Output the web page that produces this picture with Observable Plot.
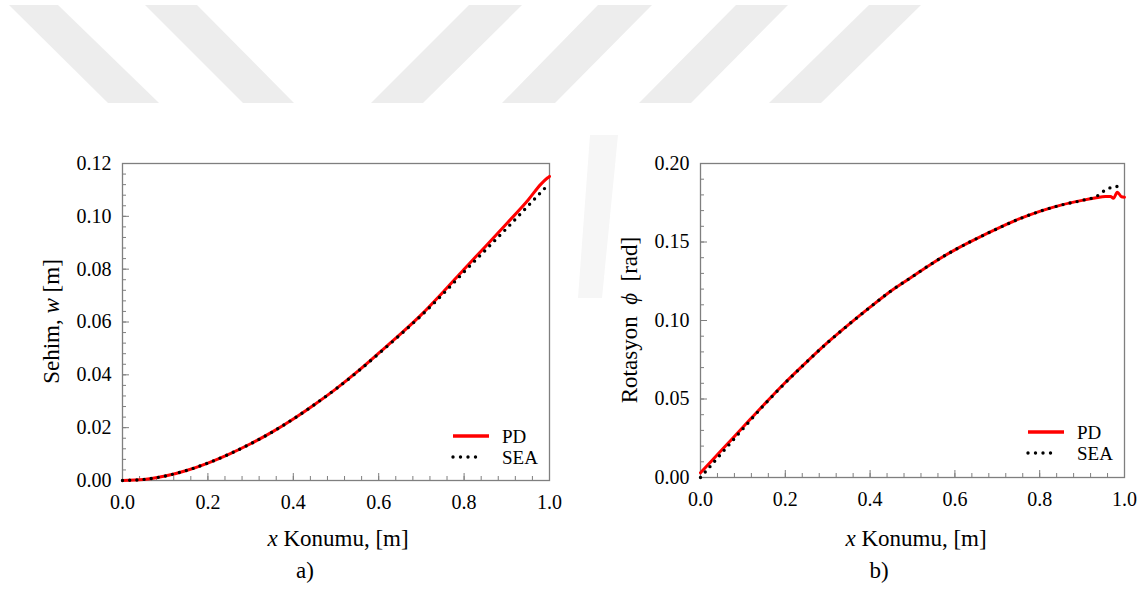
<!DOCTYPE html>
<html>
<head>
<meta charset="utf-8">
<script src="https://cdn.jsdelivr.net/npm/d3@7"></script>
<script src="https://cdn.jsdelivr.net/npm/@observablehq/plot@0.6"></script>
<style>
  html, body { margin: 0; padding: 0; background: #fff; }
  body { position: relative; width: 1146px; height: 589px; overflow: hidden; font-family: "Liberation Serif", "Times New Roman", serif; }
  #bg { position: absolute; left: 0; top: 0; }
  .panel { position: absolute; top: 0; }
</style>
</head>
<body>
<svg id="bg" width="1146" height="589"></svg>
<div id="panelA" class="panel" style="left:0px"></div>
<div id="panelB" class="panel" style="left:573px"></div>
<script>
// Axis tick labels
const xTicks = [0, 0.2, 0.4, 0.6, 0.8, 1.0];
const deflectionTicks = [0, 0.02, 0.04, 0.06, 0.08, 0.10, 0.12];
const rotationTicks = [0, 0.05, 0.10, 0.15, 0.20];

// Series names
const seriesNames = ["PD", "SEA"];

// a) Deflection w along the beam [m]
const xPD_a = [0, 0.05, 0.1, 0.15, 0.2, 0.25, 0.3, 0.35, 0.4, 0.45, 0.5, 0.55, 0.6, 0.65, 0.7, 0.75, 0.8, 0.85, 0.9, 0.95, 0.98, 0.995, 1.0];
const wPD   = [0, 0.0004, 0.0017, 0.0038, 0.0066, 0.0100, 0.0139, 0.0183, 0.0233, 0.0288, 0.0347, 0.0412, 0.0482, 0.0553, 0.0628, 0.0712, 0.0800, 0.0886, 0.0973, 0.1062, 0.1122, 0.1145, 0.1151];
const xSEA_a = [0, 0.05, 0.1, 0.15, 0.2, 0.25, 0.3, 0.35, 0.4, 0.45, 0.5, 0.55, 0.6, 0.65, 0.7, 0.75, 0.8, 0.85, 0.9, 0.95, 0.99];
const wSEA   = [0, 0.0004, 0.0017, 0.0038, 0.0066, 0.0100, 0.0139, 0.0183, 0.0233, 0.0288, 0.0347, 0.0411, 0.0480, 0.0551, 0.0625, 0.0705, 0.0790, 0.0872, 0.0955, 0.1040, 0.1108];

// b) Rotation phi along the beam [rad]
const xPD_b = [0, 0.05, 0.1, 0.15, 0.2, 0.25, 0.3, 0.35, 0.4, 0.45, 0.5, 0.55, 0.6, 0.65, 0.7, 0.75, 0.8, 0.85, 0.9, 0.93, 0.955, 0.967, 0.974, 0.983, 0.993, 1.0];
const phiPD = [0.003, 0.0175, 0.032, 0.0465, 0.0605, 0.0735, 0.086, 0.0975, 0.1085, 0.119, 0.128, 0.137, 0.145, 0.152, 0.1585, 0.1645, 0.1695, 0.1735, 0.1765, 0.178, 0.179, 0.179, 0.1778, 0.1817, 0.1788, 0.1785];
const xSEA_b = [0, 0.05, 0.1, 0.15, 0.2, 0.25, 0.3, 0.35, 0.4, 0.45, 0.5, 0.55, 0.6, 0.65, 0.7, 0.75, 0.8, 0.85, 0.9, 0.936, 0.951, 0.967, 0.983];
const phiSEA = [0, 0.0155, 0.031, 0.0462, 0.0603, 0.0735, 0.086, 0.0975, 0.1085, 0.119, 0.128, 0.137, 0.145, 0.152, 0.1585, 0.1645, 0.1695, 0.1735, 0.1765, 0.1794, 0.1824, 0.1846, 0.1854];

const FONT = '"Liberation Serif", "Times New Roman", serif';
const FRAME = "#7f7f7f";

// Light diagonal band across the top of the page
const band = d3.select("#bg");
const stripes = [
  [[9,5],[58,5],[159,103],[108,103]],
  [[145,5],[197,5],[294,103],[243,103]],
  [[469,5],[522,5],[423,103],[371,103]],
  [[598,5],[652,5],[555,103],[502,103]],
  [[736,5],[788,5],[691,103],[639,103]],
  [[869,5],[921,5],[821,103],[769,103]],
  [[590,135],[618,135],[602,298],[578,298]]
];
band.selectAll("polygon").data(stripes).join("polygon")
  .attr("points", d => d.map(p => p.join(",")).join(" "))
  .attr("fill", (d, i) => i === 6 ? "#f6f6f6" : "#ededed");

function panel({el, margin, yDomain, yTicks, yFormat, yMinorStep, pdX, pdY, seaX, seaY, yTitle, yTitleX, xTitleX, caption, captionX, legend}) {
  const width = 573, height = 589;
  const pw = width - margin.left - margin.right;
  const ph = height - margin.top - margin.bottom;
  const pd = pdX.map((x, i) => ({x, y: pdY[i]}));
  const sea = seaX.map((x, i) => ({x, y: seaY[i]}));
  const xMinor = d3.range(0, 1.0001, 0.04);
  const yMinor = d3.range(yDomain[0], yDomain[1] + 1e-9, yMinorStep);

  const chart = Plot.plot({
    width, height,
    marginLeft: margin.left, marginRight: margin.right,
    marginTop: margin.top, marginBottom: margin.bottom,
    style: {fontFamily: FONT, fontSize: "20px", color: "#000", background: "transparent", overflow: "visible"},
    x: {domain: [0, 1]},
    y: {domain: yDomain},
    marks: [
      Plot.frame({stroke: FRAME, strokeWidth: 1.3}),
      Plot.tickX(xMinor, {x: d => d, stroke: FRAME, insetTop: ph - 4}),
      Plot.tickX(xTicks, {x: d => d, stroke: FRAME, insetTop: ph - 7}),
      Plot.tickY(yMinor, {y: d => d, stroke: FRAME, insetRight: pw - 4}),
      Plot.tickY(yTicks, {y: d => d, stroke: FRAME, insetRight: pw - 7}),
      Plot.axisX({ticks: xTicks, tickSize: 0, tickPadding: 14, tickFormat: d3.format(".1f"), label: null}),
      Plot.axisY({ticks: yTicks, tickSize: 0, tickPadding: 11, tickFormat: d3.format(yFormat), label: null}),
      Plot.line(pd, {x: "x", y: "y", stroke: "#ff0000", strokeWidth: 3, curve: "monotone-x"}),
      Plot.line(sea, {x: "x", y: "y", stroke: "#000", strokeWidth: 3.4, strokeDasharray: "0 7.2", strokeLinecap: "round", curve: "monotone-x"})
    ]
  });

  const svg = d3.select(chart);
  // x-axis title
  const xt = svg.append("text").attr("x", xTitleX).attr("y", 546)
    .attr("text-anchor", "middle").attr("font-size", 23).attr("fill", "#000");
  xt.append("tspan").attr("font-style", "italic").text("x");
  xt.append("tspan").text(" Konumu, [m]");
  // y-axis title
  const yt = svg.append("text")
    .attr("transform", `translate(${yTitleX},${margin.top + ph / 2}) rotate(-90)`)
    .attr("text-anchor", "middle").attr("font-size", 23).attr("fill", "#000")
    .style("white-space", "pre");
  yTitle.forEach(([t, italic]) => {
    const s = yt.append("tspan").text(t);
    if (italic) s.attr("font-style", "italic");
  });
  // caption
  svg.append("text").attr("x", captionX).attr("y", 578).attr("text-anchor", "middle")
    .attr("font-size", 23).attr("fill", "#000").text(caption);
  // legend
  const g = svg.append("g").attr("text-anchor", "start");
  g.append("line").attr("x1", legend.x).attr("x2", legend.x + 36)
    .attr("y1", legend.y).attr("y2", legend.y)
    .attr("stroke", "#ff0000").attr("stroke-width", 3.5);
  g.append("line").attr("x1", legend.x).attr("x2", legend.x + 30)
    .attr("y1", legend.y + 21).attr("y2", legend.y + 21)
    .attr("stroke", "#000").attr("stroke-width", 3.4)
    .attr("stroke-dasharray", "0 7.5").attr("stroke-linecap", "round");
  g.append("text").attr("x", legend.x + 49).attr("y", legend.y + 7)
    .attr("text-anchor", "start").attr("font-size", 19).attr("fill", "#000").text(seriesNames[0]);
  g.append("text").attr("x", legend.x + 49).attr("y", legend.y + 28)
    .attr("text-anchor", "start").attr("font-size", 19).attr("fill", "#000").text(seriesNames[1]);

  document.getElementById(el).appendChild(chart);
}

panel({
  el: "panelA",
  margin: {left: 122, right: 24, top: 163, bottom: 109},
  yDomain: [0, 0.12], yTicks: deflectionTicks, yFormat: ".2f", yMinorStep: 0.004,
  pdX: xPD_a, pdY: wPD, seaX: xSEA_a, seaY: wSEA,
  yTitle: [["Sehim, ", false], ["w", true], [" [m]", false]],
  yTitleX: 59, xTitleX: 338, caption: "a)", captionX: 305,
  legend: {x: 453, y: 436}
});

panel({
  el: "panelB",
  margin: {left: 127, right: 22, top: 163, bottom: 112},
  yDomain: [0, 0.20], yTicks: rotationTicks, yFormat: ".2f", yMinorStep: 0.01,
  pdX: xPD_b, pdY: phiPD, seaX: xSEA_b, seaY: phiSEA,
  yTitle: [["Rotasyon  ", false], ["\u03d5", true], ["  [rad]", false]],
  yTitleX: 64, xTitleX: 343, caption: "b)", captionX: 306,
  legend: {x: 455, y: 432}
});
</script>
</body>
</html>
